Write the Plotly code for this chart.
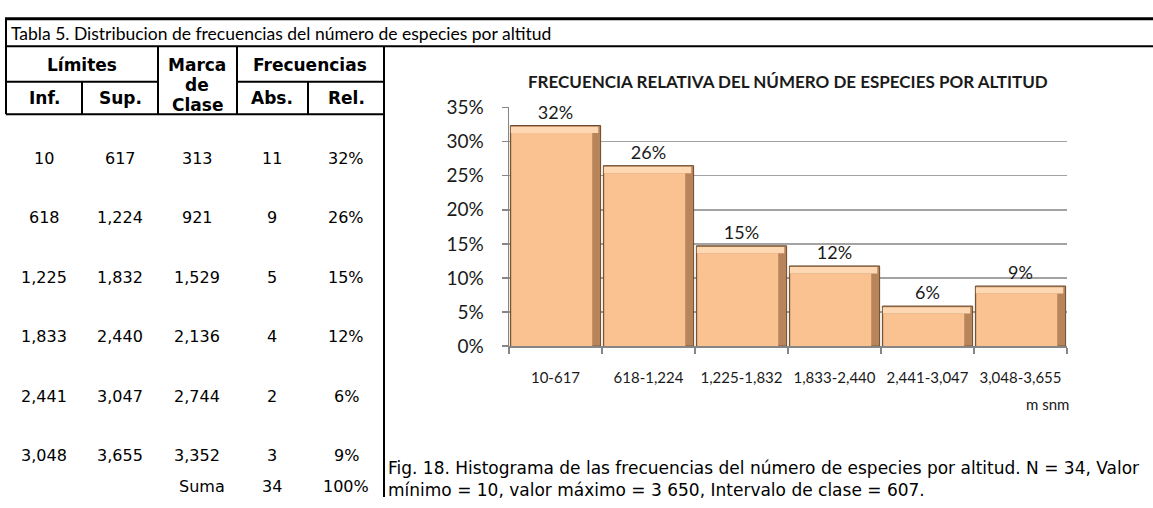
import plotly.graph_objects as go

W, H = 1153, 508

# ---------------- data ----------------
categories = ["10-617", "618-1,224", "1,225-1,832", "1,833-2,440", "2,441-3,047", "3,048-3,655"]
rel_values = [0.3235, 0.2647, 0.1471, 0.1176, 0.0588, 0.0882]
rel_labels = ["32%", "26%", "15%", "12%", "6%", "9%"]
y_tick_vals = [0, 0.05, 0.10, 0.15, 0.20, 0.25, 0.30, 0.35]
y_tick_text = ["0%", "5%", "10%", "15%", "20%", "25%", "30%", "35%"]

lim_inf = ["10", "618", "1,225", "1,833", "2,441", "3,048"]
lim_sup = ["617", "1,224", "1,832", "2,440", "3,047", "3,655"]
marca_clase = ["313", "921", "1,529", "2,136", "2,744", "3,352"]
frec_abs = ["11", "9", "5", "4", "2", "3"]
frec_rel = ["32%", "26%", "15%", "12%", "6%", "9%"]
suma_label = "Suma"
suma_abs = "34"
suma_rel = "100%"

table_title = "Tabla 5. Distribucion de frecuencias del número de especies por altitud"
chart_title = "FRECUENCIA RELATIVA DEL NÚMERO DE ESPECIES POR ALTITUD"
x_unit = "m snm"
caption_1 = "Fig. 18. Histograma de las frecuencias del número de especies por altitud. N = 34, Valor"
caption_2 = "mínimo = 10, valor máximo = 3 650, Intervalo de clase = 607."


def px(x):
    return x / W


def py(y):
    return 1 - y / H


CHART_FONT = "Lato, 'Open Sans', sans-serif"
TABLE_FONT = "'DejaVu Sans', Verdana, sans-serif"

fig = go.Figure()

# bevel-like bars: dark edge body, face, light top band
bev = 0.011
fig.add_trace(go.Bar(
    x=categories, y=rel_values, width=0.97,
    marker=dict(color="#B8845A", line=dict(color="#6A4A2C", width=1)),
    text=rel_labels, textposition="outside", constraintext="none", cliponaxis=False,
    textfont=dict(family=CHART_FONT, size=18, color="#1a1a1a"),
    hoverinfo="skip",
))
fig.add_trace(go.Bar(
    x=categories, y=[v - bev for v in rel_values], width=0.87, offset=-0.475,
    marker=dict(color="#FAC191", line=dict(width=0)),
    hoverinfo="skip",
))
fig.add_trace(go.Bar(
    x=categories, y=[bev * 0.85 for v in rel_values], base=[v - bev for v in rel_values],
    width=0.94, offset=-0.48,
    marker=dict(color="#FDD8B2", line=dict(width=0)),
    hoverinfo="skip",
))

fig.update_layout(
    width=W, height=H,
    margin=dict(l=0, r=0, t=0, b=0),
    paper_bgcolor="white", plot_bgcolor="white",
    showlegend=False, barmode="overlay", bargap=0.03,
    xaxis=dict(
        domain=[px(509), px(1067)], anchor="y",
        showline=True, linecolor="#868686", linewidth=1.5,
        ticks="outside", tickson="boundaries", ticklen=6, tickcolor="#868686", tickwidth=1.5,
        ticklabelstandoff=17,
        tickfont=dict(family=CHART_FONT, size=15, color="#1a1a1a"),
        showgrid=False, fixedrange=True,
    ),
    yaxis=dict(
        domain=[py(350), py(100)], anchor="x",
        range=[0, 0.35], tickvals=y_tick_vals, ticktext=y_tick_text,
        showgrid=True, gridcolor="#A3A3A3", gridwidth=1.5,
        showline=True, linecolor="#868686", linewidth=1.5,
        ticks="outside", ticklen=6, tickcolor="#868686", tickwidth=1.5,
        ticklabelstandoff=14,
        tickfont=dict(family=CHART_FONT, size=19, color="#1a1a1a"),
        zeroline=False, fixedrange=True,
    ),
)

shapes = []


def line(x0, y0, x1, y1, w=2):
    shapes.append(dict(type="line", xref="paper", yref="paper",
                       x0=px(x0), y0=py(y0), x1=px(x1), y1=py(y1),
                       line=dict(color="black", width=w)))


line(5, 7, 1153, 7, 3)
line(5, 36, 1153, 36, 2)
line(6, 7, 6, 107, 2)
line(6, 73, 158, 73, 2)
line(237, 73, 384, 73, 2)
line(6, 107, 384, 107, 2)
line(82, 73, 82, 107, 2)
line(158, 36, 158, 107, 2)
line(237, 36, 237, 107, 2)
line(308, 73, 308, 107, 2)
line(384, 36, 384, 508, 2)

annotations = []


def txt(s, x, y, size, family, xanchor="center", color="black", bold=False, align="center"):
    annotations.append(dict(
        text=("<b>%s</b>" % s) if bold else s,
        x=px(x), y=py(y), xref="paper", yref="paper",
        xanchor=xanchor, yanchor="middle", showarrow=False, align=align,
        font=dict(family=family, size=size, color=color),
    ))


txt(table_title, 9, 22, 17.5, CHART_FONT, xanchor="left")

# header
HB = 17
txt("Límites", 82, 55, HB, TABLE_FONT, bold=True)
txt("Frecuencias", 310, 55, HB, TABLE_FONT, bold=True)
txt("Marca", 197, 55, HB, TABLE_FONT, bold=True)
txt("de", 197, 76, HB, TABLE_FONT, bold=True)
txt("Clase", 197, 97, HB, TABLE_FONT, bold=True)
txt("Inf.", 44, 90, HB, TABLE_FONT, bold=True)
txt("Sup.", 120, 90, HB, TABLE_FONT, bold=True)
txt("Abs.", 272, 90, HB, TABLE_FONT, bold=True)
txt("Rel.", 346, 90, HB, TABLE_FONT, bold=True)

col_x = [44, 120, 197, 272, 346]
for i in range(len(lim_inf)):
    yy = 153 + i * 62.4
    for cx, col in zip(col_x, [lim_inf, lim_sup, marca_clase, frec_abs, frec_rel]):
        txt(col[i], cx, yy, 16, TABLE_FONT)
txt(suma_label, 202, 497, 16, TABLE_FONT)
txt(suma_abs, 272, 497, 16, TABLE_FONT)
txt(suma_rel, 346, 497, 16, TABLE_FONT)

# chart texts
txt(chart_title, 788, 73, 17, CHART_FONT, bold=True, color="#1a1a1a")
txt(x_unit, 1071, 411, 15, CHART_FONT, xanchor="right", color="#1a1a1a")

# caption (one two-line text)
txt(caption_1 + "<br>" + caption_2, 386, 489, 17, TABLE_FONT, xanchor="left", align="left")

fig.update_layout(shapes=shapes, annotations=annotations)

fig.write_html(
    "out.html",
    config={"displayModeBar": False, "staticPlot": True},
    post_script="document.body.style.margin='0px';document.body.style.overflow='hidden';",
)
